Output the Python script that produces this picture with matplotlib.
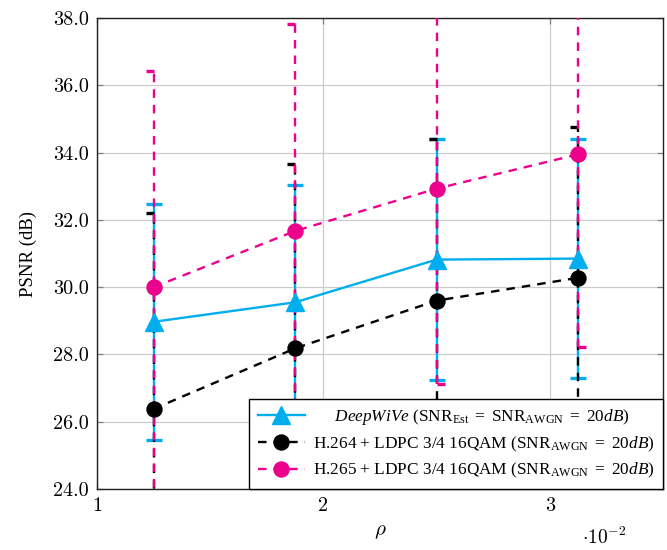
import numpy as np
import matplotlib
matplotlib.use("Agg")
import matplotlib.pyplot as plt
from matplotlib.path import Path
from matplotlib.ticker import FixedLocator, FuncFormatter

plt.rcParams['font.family'] = ['Liberation Serif', 'DejaVu Serif']
plt.rcParams['mathtext.fontset'] = 'custom'
plt.rcParams['mathtext.rm'] = 'Liberation Serif'
plt.rcParams['mathtext.it'] = 'Liberation Serif:italic'

# compression ratio rho and mean PSNR +/- std for each scheme
rho = [0.0125, 0.01875, 0.025, 0.03125]

deepwive_psnr = [28.97, 29.55, 30.82, 30.85]
deepwive_std = [3.51, 3.50, 3.58, 3.55]

h264_psnr = [26.38, 28.18, 29.60, 30.28]
h264_std = [5.82, 5.49, 4.80, 4.47]

h265_psnr = [30.00, 31.67, 32.93, 33.95]
h265_std = [6.42, 6.15, 5.81, 5.73]

labels = [
    r"     $\mathit{DeepWiVe}$ (SNR$_{\mathrm{Est}}$ $=$ SNR$_{\mathrm{AWGN}}$ $=$ $20dB$)",
    r"H.264 + LDPC 3/4 16QAM (SNR$_{\mathrm{AWGN}}$ $=$ $20dB$)",
    r"H.265 + LDPC 3/4 16QAM (SNR$_{\mathrm{AWGN}}$ $=$ $20dB$)",
]

cyan = '#00aeef'
magenta = '#ec008c'
dash = (0, (3.6, 3.0))

# half caps, like a dashed cap line that only shows its first dash
left_cap = Path([(-1, 0), (0, 0)])
right_cap = Path([(0, 0), (1, 0)])

fig = plt.figure(figsize=(6.67, 5.5), dpi=100)
ax = fig.add_axes([0.1454, 0.111, 0.8486, 0.856])

series = [
    (deepwive_psnr, deepwive_std, cyan, '-', '^', labels[0]),
    (h264_psnr, h264_std, 'black', dash, 'o', labels[1]),
    (h265_psnr, h265_std, magenta, dash, 'o', labels[2]),
]

for z, (m, s, c, ls, mk, lab) in enumerate(series):
    m = np.array(m)
    s = np.array(s)
    lo = m - s
    hi = m + s
    # vertical error bars
    ax.vlines(rho, lo, hi, colors=c, linestyles=[ls], linewidth=1.7, zorder=3 + z)
    if ls == '-':
        ax.plot(rho, hi, ls='none', marker='_', ms=11.5, mew=2.4, color=c, zorder=3 + z)
        ax.plot(rho, lo, ls='none', marker='_', ms=11.5, mew=2.4, color=c, zorder=3 + z)
    else:
        ax.plot(rho, hi, ls='none', marker=left_cap, ms=11, mew=2.4, color=c, zorder=3 + z)
        ax.plot(rho, lo, ls='none', marker=right_cap, ms=11, mew=2.4, color=c, zorder=3 + z)
    ax.plot(rho, m, color=c, linestyle=ls, linewidth=1.7, marker=mk,
            ms=12.5 if mk == '^' else 10.8, mec=c, mfc=c, label=lab, zorder=10 + z)

ax.set_xlim(0.01, 0.035)
ax.set_ylim(24, 38)
ax.xaxis.set_major_locator(FixedLocator([0.01, 0.02, 0.03]))
ax.xaxis.set_major_formatter(FuncFormatter(lambda v, p: f"{v * 100:.0f}"))
ax.yaxis.set_major_locator(FixedLocator(np.arange(24, 38.1, 2)))
ax.yaxis.set_major_formatter(FuncFormatter(lambda v, p: f"{v:.1f}"))

ax.grid(True, color='#cccccc', linewidth=0.9, zorder=0)
ax.set_axisbelow(True)
ax.tick_params(direction='in', length=4.5, width=0.9, color='#808080',
               top=True, right=True, labelsize=14.5, pad=6)
for lbl in ax.get_xticklabels() + ax.get_yticklabels():
    lbl.set_fontfamily('cmr10')
for sp in ax.spines.values():
    sp.set_linewidth(1.0)
    sp.set_color('#222222')

ax.set_ylabel('PSNR (dB)', fontsize=13.5, labelpad=11)
ax.set_xlabel(r'$\rho$', fontsize=15, labelpad=5, math_fontfamily='cm')
fig.text(582 / 667, 1 - 548 / 550, r'$\cdot 10^{-2}$', fontsize=14,
         math_fontfamily='cm', ha='left', va='bottom')

leg = ax.legend(loc='lower right', borderaxespad=0, fontsize=12.4, frameon=True,
                fancybox=False, edgecolor='black', framealpha=1,
                handlelength=2.75, handletextpad=0.45, labelspacing=0.42,
                borderpad=0.5)
leg.get_frame().set_linewidth(1.0)
leg.set_zorder(20)

fig.savefig('out.png', dpi=100)
